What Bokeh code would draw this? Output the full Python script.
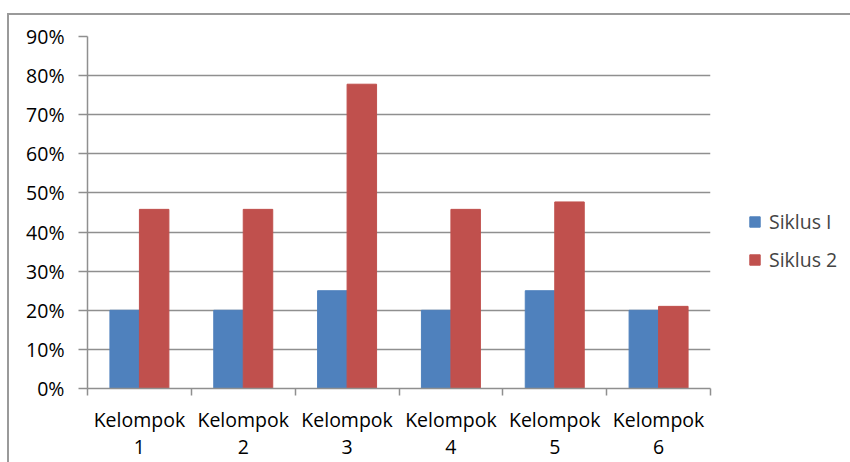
from bokeh.plotting import figure
from bokeh.models import (ColumnDataSource, FixedTicker, NumeralTickFormatter, Legend,
                          LegendItem, Range1d)
from bokeh.embed import file_html
from bokeh.resources import INLINE

# ---- data ----
categories = ["Kelompok 1", "Kelompok 2", "Kelompok 3", "Kelompok 4", "Kelompok 5", "Kelompok 6"]
series_names = ["Siklus I", "Siklus 2"]
siklus_1 = [0.20, 0.20, 0.25, 0.20, 0.25, 0.20]
siklus_2 = [0.458, 0.458, 0.778, 0.458, 0.477, 0.21]
y_ticks = [0.0, 0.1, 0.2, 0.3, 0.4, 0.5, 0.6, 0.7, 0.8, 0.9]

FONT = "Open Sans"
FS = "19.5px"
GRID = "#8f8f8f"
BLUE = "#4F81BD"
RED = "#C0504D"

n = len(categories)
centers = [i + 0.5 for i in range(n)]
bw = 0.284

src = ColumnDataSource(dict(
    x1=[c - bw / 2 for c in centers],
    x2=[c + bw / 2 for c in centers],
    s1=siklus_1,
    s2=siklus_2,
))

p = figure(frame_width=623, frame_height=352, output_backend="svg", toolbar_location=None,
           x_range=Range1d(0, n), y_range=Range1d(0, 0.9),
           min_border_left=87, min_border_right=140, min_border_top=36, min_border_bottom=74)
p.outline_line_color = None
p.background_fill_color = "white"
p.border_fill_alpha = 0
# outer chart border (top and left edges visible in the window)
p.styles = {
    "background-color": "white",
    "background-image": "linear-gradient(#9a9a9a,#9a9a9a), linear-gradient(#9a9a9a,#9a9a9a)",
    "background-size": "900px 2px, 2px 500px",
    "background-position": "7px 13px, 7px 13px",
    "background-repeat": "no-repeat",
}

r1 = p.vbar(x="x1", top="s1", width=bw, source=src, fill_color=BLUE, line_color=BLUE)
r2 = p.vbar(x="x2", top="s2", width=bw, source=src, fill_color=RED, line_color=RED)

# axes
p.xgrid.visible = False
p.ygrid.grid_line_color = GRID
p.ygrid.grid_line_width = 1.5
p.ygrid.ticker = FixedTicker(ticks=y_ticks)

ya = p.yaxis[0]
ya.ticker = FixedTicker(ticks=y_ticks)
ya.formatter = NumeralTickFormatter(format="0%")
ya.axis_line_color = GRID
ya.axis_line_width = 1.5
ya.major_tick_line_color = GRID
ya.major_tick_line_width = 1.5
ya.major_tick_out = 9
ya.major_tick_in = 0
ya.minor_tick_line_color = None
ya.major_label_standoff = 14
ya.major_label_text_font = FONT
ya.major_label_text_font_size = FS
ya.major_label_text_color = "#000000"

xa = p.xaxis[0]
xa.ticker = FixedTicker(ticks=centers, minor_ticks=list(range(n + 1)))
xa.major_label_overrides = {c: cat.replace(" ", "\n") for c, cat in zip(centers, categories)}
xa.axis_line_color = GRID
xa.axis_line_width = 1.5
xa.major_tick_line_color = None
xa.major_tick_out = 0
xa.major_tick_in = 0
xa.minor_tick_line_color = GRID
xa.minor_tick_line_width = 1.5
xa.minor_tick_out = 7
xa.minor_tick_in = 0
xa.major_label_standoff = 10
xa.major_label_text_font = FONT
xa.major_label_text_font_size = FS
xa.major_label_text_line_height = 1.0
xa.major_label_text_color = "#000000"

legend = Legend(items=[LegendItem(label=series_names[0], renderers=[r1]),
                       LegendItem(label=series_names[1], renderers=[r2])],
                location=(38, 115), padding=0, margin=0, spacing=11,
                glyph_width=13, glyph_height=13, label_standoff=8,
                label_text_font=FONT, label_text_font_size=FS,
                border_line_alpha=0, background_fill_alpha=0)
p.add_layout(legend, "right")

open("out.html", "w").write(file_html(p, INLINE))
